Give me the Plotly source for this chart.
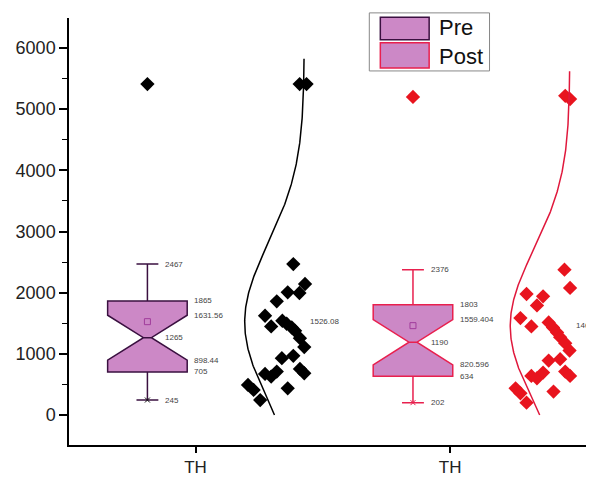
import numpy as np
import plotly.graph_objects as go

# ---------------- data ----------------
groups = ["Pre", "Post"]
tick_labels = ["TH", "TH"]

pre_values = [2467, 2142, 2005, 1995, 1858, 1623, 1541, 1448, 1492, 1431, 1377, 1257, 1110,
              967, 929, 754, 683, 672, 628, 710, 492, 410, 437, 245, 5410, 5410]
pre_jitter = [0.384, 0.430, 0.362, 0.408, 0.319, 0.273, 0.341, 0.297, 0.358, 0.378, 0.391, 0.410, 0.427,
              0.384, 0.339, 0.410, 0.427, 0.273, 0.297, 0.319, 0.206, 0.228, 0.362, 0.254, 0.409, 0.436]

post_values = [2376, 2077, 1978, 1940, 1792, 1585, 1448, 1513, 1431, 1350, 1273, 1175, 1055,
               913, 890, 710, 639, 639, 601, 694, 437, 355, 383, 202, 5218, 5164]
post_jitter = [0.449, 0.471, 0.300, 0.365, 0.341, 0.276, 0.319, 0.387, 0.404, 0.420, 0.432, 0.452, 0.469,
               0.432, 0.387, 0.452, 0.471, 0.319, 0.341, 0.365, 0.257, 0.276, 0.406, 0.300, 0.452, 0.471]

pre_stats = dict(lower=245, q1=705, median=1265, q3=1865, upper=2467,
                 mean=1526.08, notch_lo=898.44, notch_hi=1631.56)
post_stats = dict(lower=202, q1=634, median=1190, q3=1803, upper=2376,
                  mean=1461, notch_lo=820.596, notch_hi=1559.404)
pre_outliers = [5410]
post_outliers = [5200]

# ---------------- style ----------------
FONT = "Liberation Sans, Arial, sans-serif"
FILL = "#CC88C6"
box_border = ["#3a1040", "#E8204E"]
whisker_col = ["#111111", "#E8204E"]
pt_col = ["#000000", "#E8141E"]
curve_col = ["#000000", "#E0183C"]
group_pos = [1, 2]
box_off = [-0.189, -0.146]
curve_base = [0.427, 0.470]
BOX_W = 0.3125
PEAK = 0.234
NOTCH_W = 0.45

values_all = [pre_values, post_values]
jitter_all = [pre_jitter, post_jitter]
stats_all = [pre_stats, post_stats]
outl_all = [pre_outliers, post_outliers]

fig = go.Figure()
annotations = []


def fmt(v):
    if float(v).is_integer():
        return str(int(v))
    return str(v)


for i in range(2):
    g = group_pos[i]
    st = stats_all[i]
    bx = g + box_off[i]
    fig.add_trace(go.Box(
        x=[bx], q1=[st["q1"]], median=[st["median"]], q3=[st["q3"]],
        lowerfence=[st["lower"]], upperfence=[st["upper"]],
        notched=True, notchspan=[st["median"] - st["notch_lo"]], notchwidth=NOTCH_W,
        width=BOX_W, whiskerwidth=0.275, fillcolor=FILL,
        line=dict(color=box_border[i], width=1.5), boxpoints=False,
        name=groups[i], showlegend=False, hoverinfo="skip"))
    # mean marker
    fig.add_trace(go.Scatter(
        x=[bx], y=[st["mean"]], mode="markers",
        marker=dict(symbol="square-open", size=6, color="#A03C9C", line=dict(width=1)),
        showlegend=False, hoverinfo="skip"))
    # outliers on box
    fig.add_trace(go.Scatter(
        x=[bx] * len(outl_all[i]), y=outl_all[i], mode="markers",
        marker=dict(symbol="diamond", size=11, color=pt_col[i]),
        showlegend=False, hoverinfo="skip"))
    # min marker
    fig.add_trace(go.Scatter(
        x=[bx], y=[st["lower"]], mode="markers",
        marker=dict(symbol="x-thin", size=5, line=dict(width=1, color=whisker_col[i])),
        showlegend=False, hoverinfo="skip"))
    # data points
    vals = values_all[i]
    fig.add_trace(go.Scatter(
        x=[g + j for j in jitter_all[i]], y=vals, mode="markers",
        marker=dict(symbol="diamond", size=11, color=pt_col[i]),
        showlegend=False, hoverinfo="skip"))
    # normal distribution curve
    mu = float(np.mean(vals))
    sd = float(np.std(vals, ddof=1))
    top = max(vals) + 0.08 * (max(vals) - min(vals))
    yy = np.linspace(0, top, 300)
    xx = g + curve_base[i] - PEAK * np.exp(-0.5 * ((yy - mu) / sd) ** 2)
    fig.add_trace(go.Scatter(
        x=xx, y=yy, mode="lines", line=dict(color=curve_col[i], width=1.5),
        showlegend=False, hoverinfo="skip"))

    # labels
    cap_r = bx + BOX_W * 0.275 / 2
    box_r = bx + BOX_W / 2
    notch_r = bx + BOX_W * 0.17
    labs = [
        (cap_r, st["upper"], 5),
        (box_r, st["q3"], 5),
        (box_r, st["notch_hi"], 5),
        (notch_r, st["median"], 2),
        (box_r, st["notch_lo"], 5),
        (box_r, st["q1"], 5),
        (cap_r, st["lower"], 5),
    ]
    for (lx, ly, sh) in labs:
        annotations.append(dict(x=lx, y=ly, xref="x", yref="y", text=fmt(ly),
                                showarrow=False, xanchor="left", yanchor="middle", xshift=sh,
                                font=dict(family=FONT, size=8, color="#444444")))
    annotations.append(dict(x=g + curve_base[i], y=st["mean"], xref="x", yref="y",
                            text=fmt(st["mean"]), showarrow=False, xanchor="left",
                            yanchor="middle", xshift=4,
                            font=dict(family=FONT, size=8, color="#444444")))

# ---------------- manual legend ----------------
shapes = [
    dict(type="rect", xref="paper", yref="paper", x0=0.572, x1=0.801, y0=0.876, y1=1.012,
         line=dict(color="#888888", width=1), fillcolor="white", layer="above"),
    dict(type="rect", xref="paper", yref="paper", x0=0.593, x1=0.686, y0=0.949, y1=1.002,
         line=dict(color=box_border[0], width=1.5), fillcolor=FILL, layer="above"),
    dict(type="rect", xref="paper", yref="paper", x0=0.593, x1=0.686, y0=0.883, y1=0.942,
         line=dict(color=box_border[1], width=1.5), fillcolor=FILL, layer="above"),
]
annotations.append(dict(x=0.700, y=0.977, xref="paper", yref="paper", text=groups[0],
                        showarrow=False, xanchor="left", yanchor="middle",
                        font=dict(family=FONT, size=22, color="#111111")))
annotations.append(dict(x=0.700, y=0.911, xref="paper", yref="paper", text=groups[1],
                        showarrow=False, xanchor="left", yanchor="middle",
                        font=dict(family=FONT, size=22, color="#111111")))

# the page body adds an 8 px offset; margins compensate so the plot area lands
# at x 66..594, y 18..446 of the window
fig.update_layout(
    width=594, height=477,
    margin=dict(l=58, r=8, t=10, b=39),
    plot_bgcolor="white", paper_bgcolor="white",
    boxmode="overlay",
    showlegend=False,
    shapes=shapes,
    annotations=annotations,
    xaxis=dict(range=[0.503, 2.565], tickvals=group_pos, ticktext=tick_labels,
               showline=True, linecolor="black", linewidth=1.5, ticks="outside",
               ticklen=6, tickwidth=1.5, tickcolor="black", showgrid=False, zeroline=False,
               tickfont=dict(family=FONT, size=17, color="#222222")),
    yaxis=dict(range=[-490, 6490], tickvals=[0, 1000, 2000, 3000, 4000, 5000, 6000],
               showline=True, linecolor="black", linewidth=1.5, ticks="outside",
               ticklen=8, tickwidth=1.5, tickcolor="black", showgrid=False, zeroline=False,
               minor=dict(tickvals=[500, 1500, 2500, 3500, 4500, 5500], ticks="outside",
                          ticklen=5, tickwidth=1.2, tickcolor="black", showgrid=False),
               tickfont=dict(family=FONT, size=18, color="#222222")),
)

fig.write_html("out.html")
